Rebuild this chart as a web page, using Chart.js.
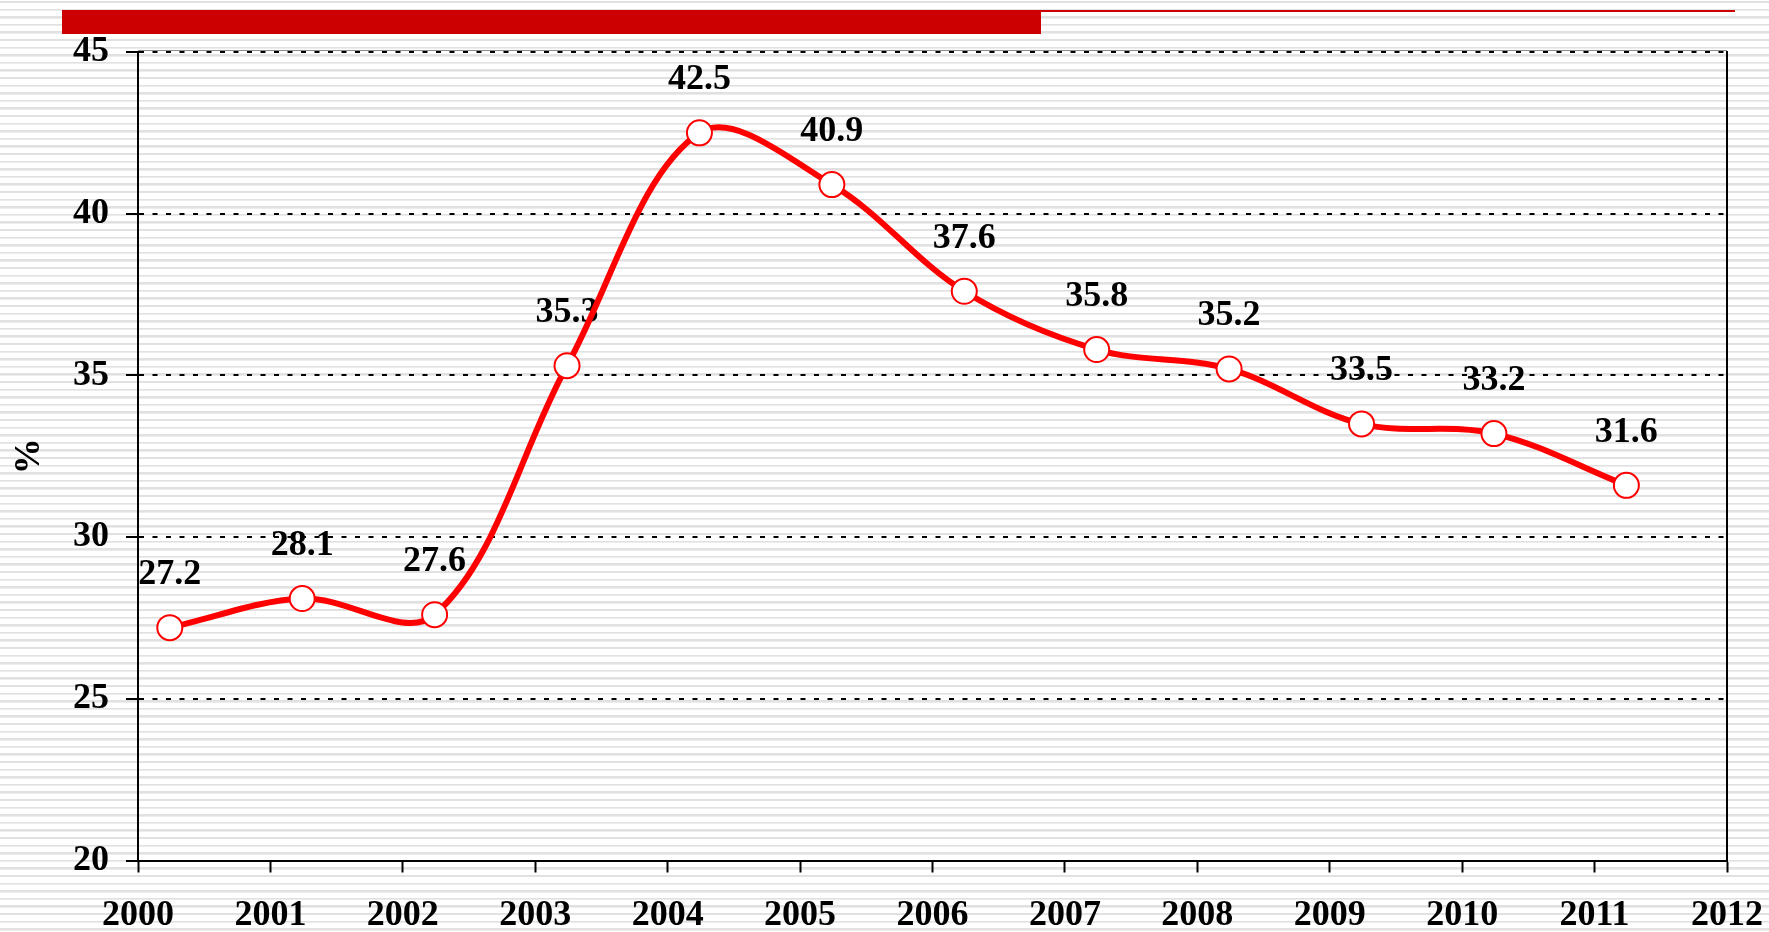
<!DOCTYPE html>
<html>
<head>
<meta charset="utf-8">
<script src="https://cdn.jsdelivr.net/npm/chart.js@4/dist/chart.umd.min.js"></script>
<style>
  html, body {
    margin: 0;
    padding: 0;
    width: 1769px;
    height: 932px;
    overflow: hidden;
    background: repeating-linear-gradient(to bottom,
      #ffffff 0px, #ffffff 1px,
      #e1e1e1 1px, #e1e1e1 2.6px,
      #ececec 2.6px, #ececec 3.3px,
      #ffffff 3.3px, #ffffff 7.6px);
  }
  #wrap { position: relative; width: 1769px; height: 932px; }
  #barThick { position: absolute; left: 62px; top: 10px; width: 979px; height: 24px; background: #cc0000; }
  #barThin { position: absolute; left: 1041px; top: 10px; width: 694px; height: 2px; background: #cc0000; }
  canvas { position: absolute; left: 0; top: 0; }
</style>
</head>
<body>
<div id="wrap">
  <div id="barThick"></div>
  <div id="barThin"></div>
  <canvas id="rateChart" width="1769" height="932"></canvas>
</div>
<script>
// data
const years = [2000, 2001, 2002, 2003, 2004, 2005, 2006, 2007, 2008, 2009, 2010, 2011];
const values = [27.2, 28.1, 27.6, 35.3, 42.5, 40.9, 37.6, 35.8, 35.2, 33.5, 33.2, 31.6];
const xTicks = [2000, 2001, 2002, 2003, 2004, 2005, 2006, 2007, 2008, 2009, 2010, 2011, 2012];
const yTicks = [20, 25, 30, 35, 40, 45];
const yearOffset = 0.24; // points sit a quarter into each year

const points = years.map((yr, i) => ({ x: yr + yearOffset, y: values[i] }));
const serif = "'Liberation Serif', 'Times New Roman', serif";

// value labels above each point
const valueLabels = {
    id: 'valueLabels',
    beforeDatasetsDraw(chart) {
        const ctx = chart.ctx;
        const meta = chart.getDatasetMeta(0);
        ctx.save();
        ctx.font = "bold 36px " + serif;
        ctx.fillStyle = '#000';
        ctx.textAlign = 'center';
        ctx.textBaseline = 'middle';
        meta.data.forEach((pt, i) => {
            ctx.fillText(values[i].toFixed(1), pt.x, pt.y - 53);
        });
        ctx.restore();
    }
};

// right border and thin top edge of the plot frame
const frame = {
    id: 'frame',
    afterDraw(chart) {
        const ctx = chart.ctx;
        const a = chart.chartArea;
        ctx.save();
        ctx.strokeStyle = '#000';
        ctx.lineWidth = 2;
        ctx.beginPath();
        ctx.moveTo(a.right, a.top - 1);
        ctx.lineTo(a.right, a.bottom);
        ctx.stroke();
        ctx.strokeStyle = 'rgba(90,90,90,0.7)';
        ctx.lineWidth = 1;
        ctx.beginPath();
        ctx.moveTo(a.left, a.top - 1.5);
        ctx.lineTo(a.right, a.top - 1.5);
        ctx.stroke();
        ctx.restore();
    }
};

const ctx = document.getElementById('rateChart').getContext('2d');
new Chart(ctx, {
    type: 'line',
    data: {
        datasets: [{
            data: points,
            borderColor: '#ff0000',
            borderWidth: 6,
            tension: 0.35,
            pointRadius: 12.5,
            pointBorderWidth: 2,
            pointBackgroundColor: '#ffffff',
            pointBorderColor: '#ff0000',
            fill: false
        }]
    },
    options: {
        responsive: false,
        animation: false,
        devicePixelRatio: 1,
        layout: {
            padding: { left: 0, top: 52, right: 42, bottom: 0 }
        },
        plugins: {
            legend: { display: false },
            tooltip: { enabled: false }
        },
        scales: {
            x: {
                type: 'linear',
                min: xTicks[0],
                max: xTicks[xTicks.length - 1],
                afterBuildTicks: (scale) => { scale.ticks = xTicks.map(v => ({ value: v })); },
                afterFit: (scale) => {
                    scale.height = 71.5;
                    scale.paddingLeft = 0;
                    scale.paddingRight = 0;
                },
                grid: {
                    drawOnChartArea: false,
                    drawTicks: true,
                    tickLength: 12,
                    tickColor: '#000',
                    tickWidth: 2
                },
                border: { display: true, color: '#000', width: 2 },
                ticks: {
                    color: '#000',
                    padding: 22,
                    maxRotation: 0,
                    autoSkip: false,
                    font: { family: serif, size: 36, weight: 'bold' },
                    callback: (v) => String(v)
                }
            },
            y: {
                min: yTicks[0],
                max: yTicks[yTicks.length - 1],
                afterBuildTicks: (scale) => { scale.ticks = yTicks.map(v => ({ value: v })); },
                afterFit: (scale) => {
                    scale.width = 138;
                    scale.paddingTop = 0;
                    scale.paddingBottom = 0;
                },
                grid: {
                    color: '#000',
                    lineWidth: 2,
                    drawTicks: true,
                    tickLength: 12,
                    tickColor: '#000',
                    tickWidth: 2,
                    tickBorderDash: []
                },
                border: { display: true, color: '#000', width: 2, dash: [5, 8.5] },
                ticks: {
                    color: '#000',
                    padding: 17,
                    font: { family: serif, size: 36, weight: 'bold' },
                    callback: (v) => String(v)
                },
                title: {
                    display: true,
                    text: '%',
                    color: '#000',
                    padding: { top: 8, bottom: 0 },
                    font: { family: serif, size: 36, weight: 'bold' }
                }
            }
        }
    },
    plugins: [valueLabels, frame]
});
</script>
</body>
</html>
